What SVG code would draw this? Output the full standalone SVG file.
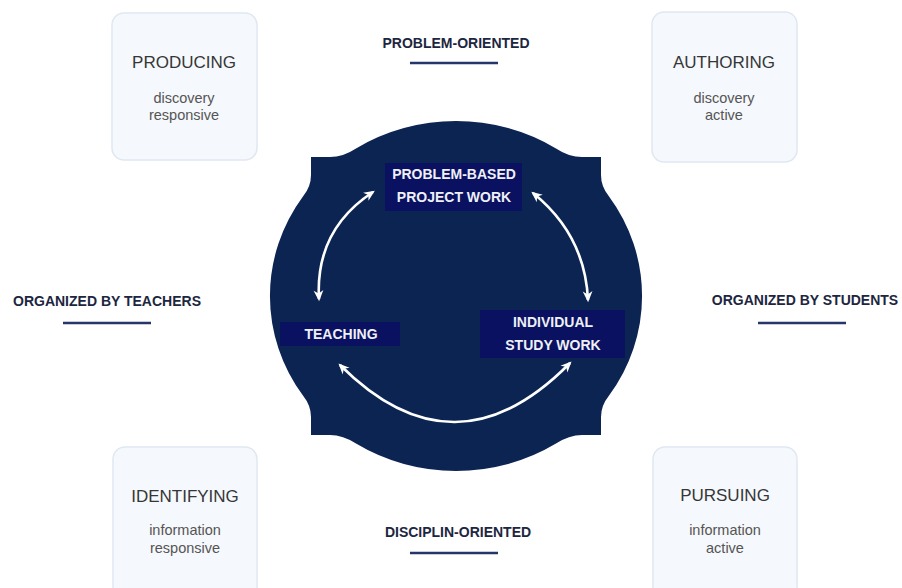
<svg xmlns="http://www.w3.org/2000/svg" width="902" height="588" viewBox="0 0 902 588">
  <defs>
    <marker id="ah" viewBox="0 0 12 12" refX="9" refY="6" markerWidth="13" markerHeight="13" markerUnits="userSpaceOnUse" orient="auto-start-reverse">
      <path d="M1,1.5 L11,6 L1,10.5 L4,6 Z" fill="#ffffff"/>
    </marker>
    <style>
      .card { fill: #f5f8fc; stroke: #dfe8f2; stroke-width: 1.5; }
      .title { font-family: "Liberation Sans", Arial, sans-serif; font-size: 17px; fill: #363636; text-anchor: middle; }
      .sub { font-family: "Liberation Sans", Arial, sans-serif; font-size: 14.5px; fill: #555555; text-anchor: middle; }
      .axis { font-family: "Liberation Sans", Arial, sans-serif; font-size: 14px; font-weight: bold; fill: #1c2640; text-anchor: middle; }
      .rule { stroke: #27366a; stroke-width: 2.5; }
      .lbl { fill: #0a1160; }
      .lbltxt { font-family: "Liberation Sans", Arial, sans-serif; font-size: 14px; font-weight: bold; fill: #eef0f6; text-anchor: middle; }
      .arc { fill: none; stroke: #ffffff; stroke-width: 2.6; marker-start: url(#ah); marker-end: url(#ah); }
    </style>
  </defs>
  <rect width="902" height="588" fill="#ffffff"/>

  <!-- corner cards -->
  <g id="producing">
    <rect class="card" x="112" y="13" width="145" height="147" rx="12"/>
    <text class="title" x="184" y="68">PRODUCING</text>
    <text class="sub" x="184" y="103">discovery</text>
    <text class="sub" x="184" y="120">responsive</text>
  </g>
  <g id="authoring">
    <rect class="card" x="652" y="12" width="145" height="150" rx="12"/>
    <text class="title" x="724" y="68">AUTHORING</text>
    <text class="sub" x="724" y="103">discovery</text>
    <text class="sub" x="724" y="120">active</text>
  </g>
  <g id="identifying">
    <rect class="card" x="113" y="447" width="144" height="152" rx="12"/>
    <text class="title" x="185" y="502">IDENTIFYING</text>
    <text class="sub" x="185" y="535">information</text>
    <text class="sub" x="185" y="553">responsive</text>
  </g>
  <g id="pursuing">
    <rect class="card" x="653" y="447" width="144" height="152" rx="12"/>
    <text class="title" x="725" y="501">PURSUING</text>
    <text class="sub" x="725" y="535">information</text>
    <text class="sub" x="725" y="553">active</text>
  </g>

  <!-- axis labels -->
  <g id="problem-oriented">
    <text class="axis" x="456" y="48" font-size="14.5">PROBLEM-ORIENTED</text>
    <line class="rule" x1="410" y1="63" x2="498" y2="63"/>
  </g>
  <g id="disciplin-oriented">
    <text class="axis" x="458" y="537" font-size="14.5">DISCIPLIN-ORIENTED</text>
    <line class="rule" x1="410" y1="553" x2="498" y2="553"/>
  </g>
  <g id="organized-by-teachers">
    <text class="axis" x="107" y="306">ORGANIZED BY TEACHERS</text>
    <line class="rule" x1="63" y1="323" x2="151" y2="323"/>
  </g>
  <g id="organized-by-students">
    <text class="axis" x="805" y="305">ORGANIZED BY STUDENTS</text>
    <line class="rule" x1="758" y1="323" x2="846" y2="323"/>
  </g>

  <!-- central disc -->
  <g id="disc">
    <path fill="#0c2452" d="M303.3,196 Q311,186.4 311,175 L311,157 L330,157 Q343,157 356,148.4 A186,175 0 0 1 556,148.4 Q569,157 582,157 L601,157 L601,175 Q601,186.4 608.7,196 A186,175 0 0 1 608.7,396 Q601,405.6 601,417 L601,435 L582,435 Q569,435 556,443.6 A186,175 0 0 1 356,443.6 Q343,435 330,435 L311,435 L311,417 Q311,405.6 303.3,396 A186,175 0 0 1 303.3,196 Z"/>
  </g>

  <g id="connectors">
    <path class="arc" d="M373,192 Q315,230 319,299"/>
    <path class="arc" d="M533,193 Q585,235 588,300"/>
    <path class="arc" d="M340,365 Q455,480 570,363"/>
  </g>

  <g id="problem-based-project-work">
    <rect class="lbl" x="385" y="163" width="137" height="48"/>
    <text class="lbltxt" x="454" y="179">PROBLEM-BASED</text>
    <text class="lbltxt" x="454" y="202">PROJECT WORK</text>
  </g>
  <g id="teaching">
    <rect class="lbl" x="280" y="322" width="120" height="24"/>
    <text class="lbltxt" x="341" y="339">TEACHING</text>
  </g>
  <g id="individual-study-work">
    <rect class="lbl" x="480" y="310" width="145" height="48"/>
    <text class="lbltxt" x="553" y="327">INDIVIDUAL</text>
    <text class="lbltxt" x="553" y="350">STUDY WORK</text>
  </g>
</svg>
